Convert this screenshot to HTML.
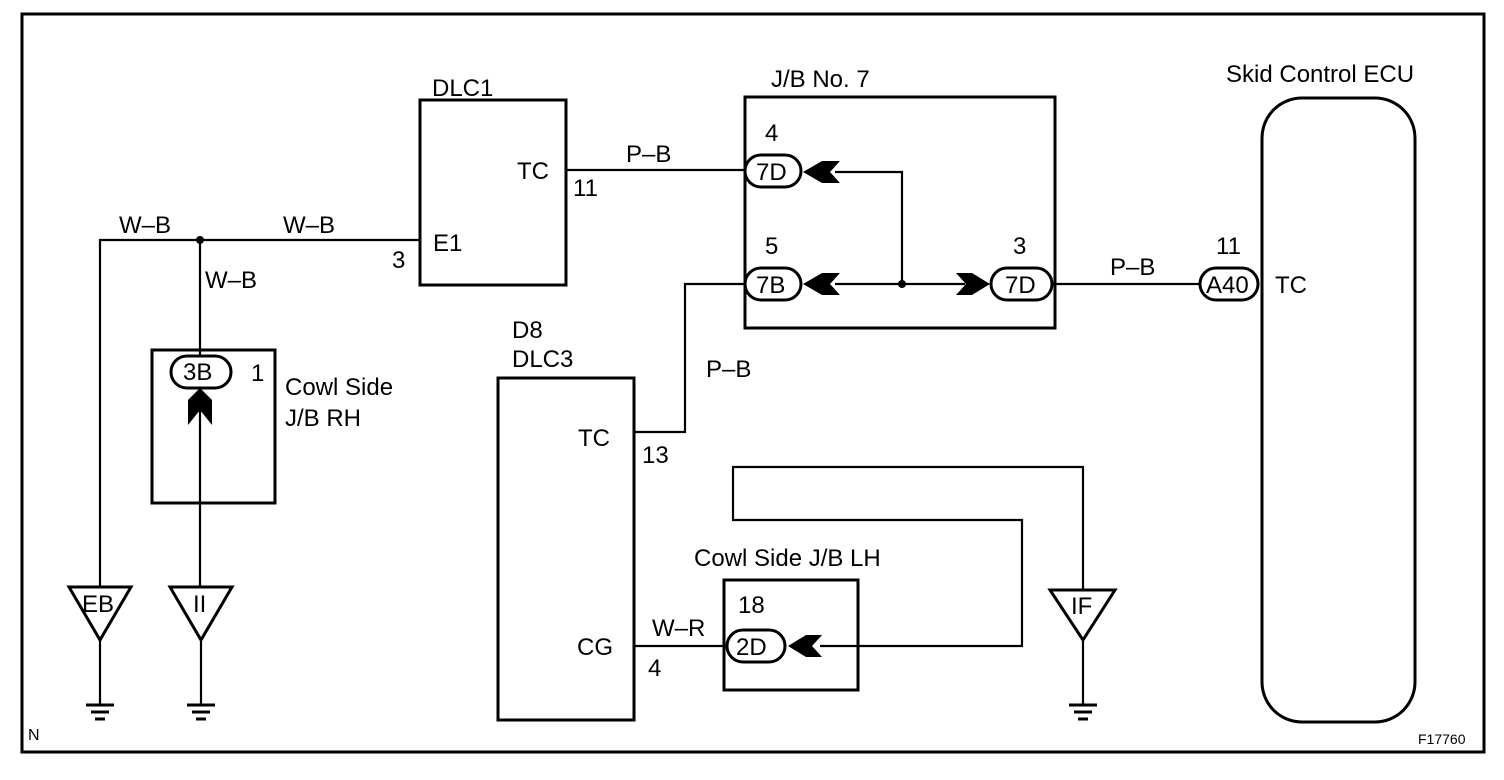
<!DOCTYPE html>
<html><head><meta charset="utf-8"><style>
html,body{margin:0;padding:0;background:#fff;}
svg{display:block;}
text{font-family:"Liberation Sans",Arial,sans-serif;font-size:24px;fill:#000;}
</style></head><body>
<svg width="1504" height="780" viewBox="0 0 1504 780" xmlns="http://www.w3.org/2000/svg">
<g fill="none" stroke="#000" stroke-width="3">
<rect x="22" y="14" width="1462" height="738"/>
<rect x="420" y="100" width="146" height="185"/>
<rect x="745" y="97" width="310" height="231"/>
<rect x="1262" y="98" width="153" height="624" rx="40"/>
<rect x="498" y="378" width="136" height="342"/>
<rect x="724" y="580" width="134" height="110"/>
<rect x="152" y="350" width="123" height="153"/>
</g>
<g fill="none" stroke="#000" stroke-width="2.2">
<polyline points="420,240 100,240 100,587"/>
<line x1="200" y1="240" x2="200" y2="358"/>
<line x1="200" y1="400" x2="200" y2="587"/>
<line x1="100" y1="640" x2="100" y2="705"/>
<line x1="201" y1="640" x2="201" y2="705"/>
<line x1="1083" y1="640" x2="1083" y2="705"/>
<polyline points="1083,590 1083,467 733,467 733,520 1022,520 1022,646 820,646"/>
<line x1="566" y1="170" x2="745" y2="170"/>
<polyline points="835,172 902,172 902,284"/>
<line x1="835" y1="284" x2="965" y2="284"/>
<line x1="1052" y1="284" x2="1200" y2="284"/>
<polyline points="745,284 685,284 685,432 634,432"/>
<line x1="634" y1="646" x2="727" y2="646"/>
</g>
<g fill="#fff" stroke="#000" stroke-width="3">
<polygon points="69,587 131,587 100,640"/>
<polygon points="170,587 232,587 201,640"/>
<polygon points="1050,590 1115,590 1083,640"/>
</g>
<g stroke="#000" stroke-width="3">
<line x1="86" y1="705" x2="114" y2="705"/><line x1="91" y1="712" x2="109" y2="712"/><line x1="95" y1="719" x2="105" y2="719"/>
<line x1="187" y1="705" x2="215" y2="705"/><line x1="192" y1="712" x2="210" y2="712"/><line x1="196" y1="719" x2="206" y2="719"/>
<line x1="1069" y1="705" x2="1097" y2="705"/><line x1="1074" y1="712" x2="1092" y2="712"/><line x1="1078" y1="719" x2="1088" y2="719"/>
</g>
<g fill="#fff" stroke="#000" stroke-width="3">
<rect x="745" y="155" width="56" height="32" rx="16"/>
<rect x="745" y="268" width="56" height="32" rx="16"/>
<rect x="991" y="268" width="61" height="32" rx="16"/>
<rect x="1200" y="268" width="58" height="32" rx="16"/>
<rect x="727" y="630" width="58" height="32" rx="16"/>
<rect x="171" y="356" width="60" height="32" rx="16"/>
</g>
<g fill="#000">
<polygon points="803,172 822,161 840,161 830,172 840,183 822,183"/>
<polygon points="803,284 822,273 840,273 830,284 840,295 822,295"/>
<polygon points="990,284 972,273 956,273 966,284 956,295 972,295"/>
<polygon points="788,646 806,635 822,635 812,646 822,657 806,657"/>
<polygon points="200,388 188,400 188,425 200,410 212,425 212,400"/>
<circle cx="200" cy="240" r="4"/>
<circle cx="902" cy="284" r="4"/>
</g>
<text x="432" y="96">DLC1</text>
<text x="517" y="179">TC</text>
<text x="573" y="196">11</text>
<text x="433" y="251">E1</text>
<text x="392" y="268">3</text>
<text x="626" y="162">P–B</text>
<text x="119" y="233">W–B</text>
<text x="283" y="233">W–B</text>
<text x="205" y="288">W–B</text>
<text x="771" y="87">J/B No. 7</text>
<text x="765" y="141">4</text>
<text x="756" y="180">7D</text>
<text x="765" y="254">5</text>
<text x="756" y="293">7B</text>
<text x="1013" y="254">3</text>
<text x="1005" y="293">7D</text>
<text x="1110" y="275">P–B</text>
<text x="1216" y="254">11</text>
<text x="1206" y="293">A40</text>
<text x="1275" y="293">TC</text>
<text x="1226" y="82">Skid Control ECU</text>
<text x="183" y="380">3B</text>
<text x="251" y="381">1</text>
<text x="285" y="395">Cowl Side</text>
<text x="285" y="426">J/B RH</text>
<text x="82" y="612">EB</text>
<text x="193" y="612">II</text>
<text x="1071" y="614">IF</text>
<text x="512" y="338">D8</text>
<text x="512" y="367">DLC3</text>
<text x="578" y="446">TC</text>
<text x="642" y="463">13</text>
<text x="706" y="377">P–B</text>
<text x="694" y="566">Cowl Side J/B LH</text>
<text x="738" y="613">18</text>
<text x="736" y="655">2D</text>
<text x="652" y="636">W–R</text>
<text x="577" y="655">CG</text>
<text x="648" y="676">4</text>
<text x="28" y="740" style="font-size:16px">N</text>
<text x="1418" y="744" style="font-size:14px">F17760</text>
</svg>
</body></html>
